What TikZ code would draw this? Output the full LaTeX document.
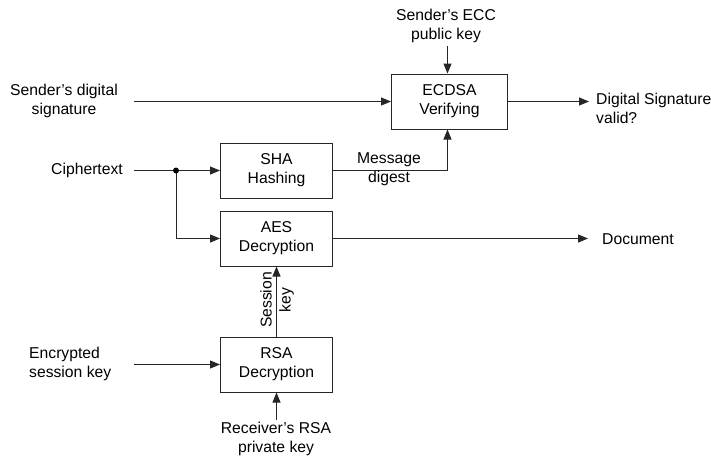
\documentclass[tikz,border=0pt]{standalone}
\usepackage{fontspec}
\setmainfont{Liberation Sans}
\usetikzlibrary{arrows.meta}

\begin{document}
\begin{tikzpicture}[x=1pt,y=-1pt,
  every node/.style={font=\fontsize{15.7}{19}\selectfont, inner sep=0pt, text=black},
  blockbox/.style={draw=black!85, line width=1pt, minimum width=112pt, minimum height=55pt, align=center},
  label/.style={align=center},
  flow/.style={draw=black!85, line width=1pt, -{Triangle[length=10pt,width=8pt]}},
  plain/.style={draw=black!85, line width=1pt}]
  \useasboundingbox (0,0) rectangle (711,456);

  % processing blocks
  \node[blockbox, minimum width=116pt, minimum height=55pt] (ecdsa) at (449.5,101.5) {ECDSA\\Verifying};
  \node[blockbox] (sha) at (276.5,170.5) {SHA\\Hashing};
  \node[blockbox] (aes) at (276.5,238.5) {AES\\Decryption};
  \node[blockbox] (rsa) at (276.5,364.5) {RSA\\Decryption};

  % inputs and outputs
  \node[label] (ecc) at (446,26) {Sender's ECC\\public key};
  \node[label] (sds) at (64,101) {Sender's digital\\signature};
  \node[label, anchor=west, align=left] (valid) at (596,108) {Digital Signature\\valid?};
  \node[anchor=east] (cipher) at (123,170) {Ciphertext};
  \node[anchor=west] (doc) at (602,239) {Document};
  \node[label, anchor=west, align=left] (enc) at (29,364) {Encrypted\\session key};
  \node[label] (recv) at (276,439) {Receiver's RSA\\private key};

  % free ends of connectors
  \coordinate (eccOut) at (447.5,46);
  \coordinate (sdsOut) at (134,101.5);
  \coordinate (validIn) at (589,101.5);
  \coordinate (cipherOut) at (134,170.5);
  \coordinate (split) at (176,170.5);
  \coordinate (docIn) at (588,238.5);
  \coordinate (encOut) at (134,364.5);
  \coordinate (recvOut) at (276.5,420);

  % connectors
  \draw[flow] (eccOut) -- (eccOut |- ecdsa.north);
  \draw[flow] (sdsOut) -- (ecdsa.west);
  \draw[flow] (ecdsa.east) -- (validIn);
  \draw[plain] (cipherOut) -- (split);
  \draw[flow] (split) -- (sha.west);
  \draw[flow] (split) |- (aes.west);
  \fill[black] (split) circle (3pt);
  \draw[flow] (sha.east) -| (eccOut |- ecdsa.south);
  \draw[flow] (aes.east) -- (docIn);
  \draw[flow] (rsa.north) -- (aes.south);
  \draw[flow] (encOut) -- (rsa.west);
  \draw[flow] (recvOut) -- (rsa.south);

  % connector labels
  \node[label] (digest) at (389,169) {Message\\digest};
  \node[label, rotate=90] (skey) at (277,300) {Session\\key};
\end{tikzpicture}
\end{document}
